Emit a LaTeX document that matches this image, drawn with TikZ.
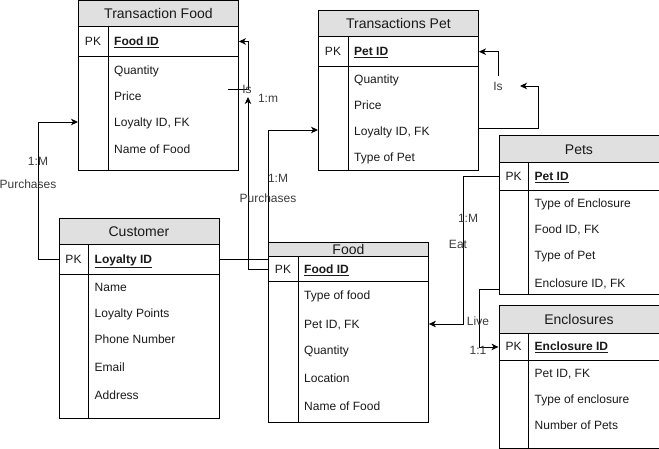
\documentclass[tikz,border=0pt]{standalone}
\usepackage{fontspec}
\setmainfont{Liberation Sans}
\usetikzlibrary{arrows.meta,calc}
\definecolor{hdrgray}{RGB}{224,224,224}
\definecolor{txt}{RGB}{25,25,25}
\newcommand\keyfield[1]{\underline{\textbf{#1}}}
\newcommand\erdbox[8]{%
  \node[hdr, minimum height={#4-#3}, anchor=north west] (#1-h) at (#2,#3) {#7};
  \node[rowbox, minimum height={#5-#4}, anchor=north west] (#1-pk) at (#2,#4) {};
  \node[rowbox, minimum height={#6-#5}, anchor=north west] (#1-b) at (#2,#5) {};
  \draw[sepline] (#2+30,#4) -- (#2+30,#6);
  \node[fld] (#1-pkl) at (#2+15,{(#4+#5)/2}) {PK};
  \node[fld, anchor=west] (#1-key) at (#2+36,{(#4+#5)/2}) {\keyfield{#8}};
}
\tikzset{
  hdr/.style={draw=black, line width=0.9pt, fill=hdrgray, minimum width=160pt, inner sep=0pt,
    font=\fontsize{14}{16}\selectfont, text height=10pt, text depth=0pt, text=txt},
  rowbox/.style={draw=black, line width=0.9pt, minimum width=160pt, inner sep=0pt},
  sepline/.style={line width=0.9pt},
  fld/.style={inner sep=0pt, font=\fontsize{12}{14}\selectfont, text height=8.6pt, text depth=0pt, text=txt},
  lbl/.style={inner sep=0pt, font=\fontsize{12}{14}\selectfont, text height=8.6pt, text depth=0pt, text=txt!85},
  conn/.style={line width=0.9pt, -{Stealth[length=7pt,width=6.5pt,inset=2pt]}},
  plain/.style={line width=0.9pt},
}
\begin{document}
\begin{tikzpicture}[x=1pt,y=-1pt]
\path[use as bounding box] (0,0) rectangle (659,449);

% Transaction Food
\erdbox{tf}{78}{0.5}{26}{56}{170.5}{Transaction Food}{Food ID}
\node[fld, anchor=west] (tf-f1) at (114,70) {Quantity};
\node[fld, anchor=west] (tf-f2) at (114,96) {Price};
\node[fld, anchor=west] (tf-f3) at (114,122) {Loyalty ID, FK};
\node[fld, anchor=west] (tf-f4) at (114,149) {Name of Food};

% Transactions Pet
\erdbox{tp}{318}{10.5}{36}{66.5}{170.5}{Transactions Pet}{Pet ID}
\node[fld, anchor=west] (tp-f1) at (354,79) {Quantity};
\node[fld, anchor=west] (tp-f2) at (354,105) {Price};
\node[fld, anchor=west] (tp-f3) at (354,131) {Loyalty ID, FK};
\node[fld, anchor=west] (tp-f4) at (354,157) {Type of Pet};

% Pets
\erdbox{pe}{498.5}{135}{162.5}{190}{294}{Pets}{Pet ID}
\node[fld, anchor=west] (pe-f1) at (534.5,203) {Type of Enclosure};
\node[fld, anchor=west] (pe-f2) at (534.5,229) {Food ID, FK};
\node[fld, anchor=west] (pe-f3) at (534.5,255) {Type of Pet};
\node[fld, anchor=west] (pe-f4) at (534.5,283) {Enclosure ID, FK};

% Customer
\erdbox{cu}{58.5}{218.3}{244.3}{274.3}{418.3}{Customer}{Loyalty ID}
\node[fld, anchor=west] (cu-f1) at (94.5,287) {Name};
\node[fld, anchor=west] (cu-f2) at (94.5,313) {Loyalty Points};
\node[fld, anchor=west] (cu-f3) at (94.5,339) {Phone Number};
\node[fld, anchor=west] (cu-f4) at (94.5,367) {Email};
\node[fld, anchor=west] (cu-f5) at (94.5,395) {Address};

% Food
\erdbox{fo}{268}{241.7}{256.5}{281.5}{421.7}{Food}{Food ID}
\node[fld, anchor=west] (fo-f1) at (304,295) {Type of food};
\node[fld, anchor=west] (fo-f2) at (304,324) {Pet ID, FK};
\node[fld, anchor=west] (fo-f3) at (304,350) {Quantity};
\node[fld, anchor=west] (fo-f4) at (304,378) {Location};
\node[fld, anchor=west] (fo-f5) at (304,406) {Name of Food};

% Enclosures
\erdbox{en}{498.5}{305}{333}{360}{448}{Enclosures}{Enclosure ID}
\node[fld, anchor=west] (en-f1) at (534.5,373) {Pet ID, FK};
\node[fld, anchor=west] (en-f2) at (534.5,399) {Type of enclosure};
\node[fld, anchor=west] (en-f3) at (534.5,425) {Number of Pets};

% free ends
\coordinate (isA) at (248,97);
\coordinate (isB) at (228,89);
\coordinate (isC) at (520,86);
\coordinate (isD) at (498,76);

% connectors
\draw[conn] (cu-pk.west) -- ++(-20,0) |- (tf-b.west |- tf-f3.west);
\draw[conn] (cu-pk.east) -- ++(49.5,0) |- ([yshift=1pt]tp-b.west |- tp-f3.west);
\draw[conn] (fo-pk.west) -| (isA);
\draw[conn] (isB) -- ++(20,0) |- (tf-pk.east);
\draw[conn] ([yshift=3pt]tp-b.east |- tp-f3.west) -- ++(60,0) |- (isC);
\draw[conn] (isD) |- (tp-pk.east);
\draw[conn] (pe-pk.west) -- ++(-35.5,0) |- (fo-b.east |- fo-f2.west);
\draw[conn] ([yshift=-6pt]pe-b.west |- pe-f4.west) -- ++(-19.5,0) |- (en-pk.west);

% labels
\node[lbl] (l1) at (38,161) {1:M};
\node[lbl] (l2) at (28,184) {Purchases};
\node[lbl] (l3) at (278,178) {1:M};
\node[lbl] (l4) at (268,198) {Purchases};
\node[lbl] (l5) at (247,89) {Is};
\node[lbl] (l6) at (268,98) {1:m};
\node[lbl] (l7) at (498,86) {Is};
\node[lbl] (l8) at (468,218) {1:M};
\node[lbl] (l9) at (458,244) {Eat};
\node[lbl] (l10) at (478,321) {Live};
\node[lbl] (l11) at (478,350) {1:1};
\end{tikzpicture}
\end{document}
